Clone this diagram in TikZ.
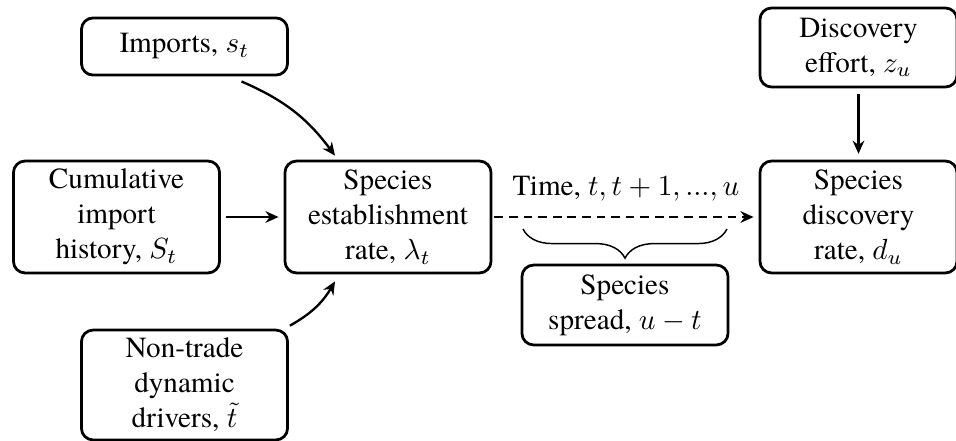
\documentclass[tikz,border=0pt]{standalone}
\usepackage{fontspec}
\setmainfont{texgyretermes}[Extension=.otf, UprightFont=*-regular,
  BoldFont=*-bold, ItalicFont=*-italic, BoldItalicFont=*-bolditalic]
\usetikzlibrary{arrows.meta,calc,decorations.pathreplacing}
\begin{document}
\begin{tikzpicture}[x=0.343pt,y=-0.343pt,
  box/.style={draw, line width=0.95pt, rounded corners=4pt, align=center,
              inner sep=0pt, minimum width=70.7pt},
  arr/.style={line width=0.8pt, -{Stealth[length=4.5pt,width=4pt]}},
  dasharr/.style={arr, dash pattern=on 3pt off 2pt}
]
\useasboundingbox (0,0) rectangle (956,441);

% boxes
\node[box, minimum height=19.6pt] (imp) at (184.5,46.5) {Imports, $s_t$};
\node[box, minimum height=38.4pt] (cum) at (116.5,217) {Cumulative\\import\\history, $S_t$};
\node[box, minimum height=38.4pt] (est) at (388,217) {Species\\establishment\\rate, $\lambda_t$};
\node[box, minimum height=37.7pt] (ntd) at (184.5,385) {Non-trade\\dynamic\\drivers, $\tilde{t}$};
\node[box, minimum height=27.1pt, minimum width=67.6pt] (eff) at (858.5,47.5) {Discovery\\effort, $z_u$};
\node[box, minimum height=38.4pt, minimum width=67.6pt] (dis) at (858.5,217) {Species\\discovery\\rate, $d_u$};
\node[box, minimum height=27.4pt] (spr) at (625,305) {Species\\spread, $u-t$};

% time label and brace
\node (time) at (626,189) {Time, $t, t+1, ..., u$};
\coordinate (bl) at (523,229);
\coordinate (br) at (727,229);
\draw[line width=0.5pt, decorate, decoration={brace, mirror, amplitude=10pt}] (bl) -- (br);

% connectors
\draw[arr] ($(imp.south)+(57,5)$) to[bend left=15] ($(est.north)+(-53,-4)$);
\draw[arr, shorten <=1.7pt, shorten >=1.7pt] (cum) -- (est);
\draw[arr] ($(ntd.north east)+(1,-3)$) to[bend right=15] ($(est.south)+(-53,7)$);
\draw[arr, shorten <=2pt, shorten >=2pt] (eff) -- (dis);
\draw[dasharr, shorten <=0.7pt, shorten >=1.7pt] (est) -- (dis);
\end{tikzpicture}
\end{document}
